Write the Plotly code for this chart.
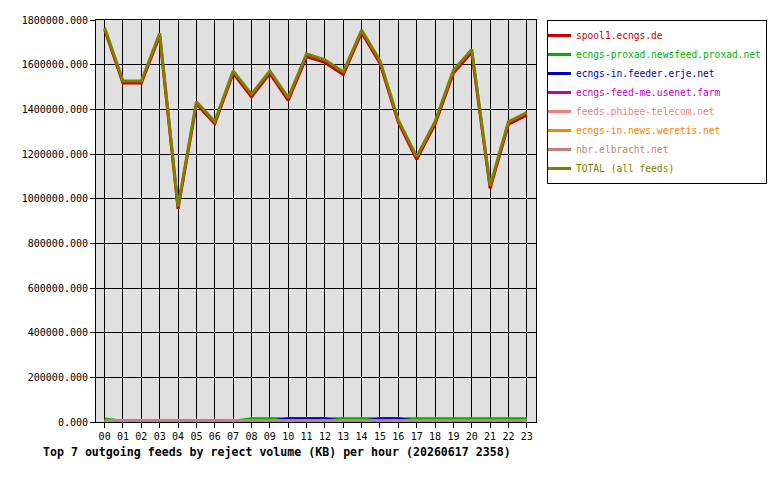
import plotly.graph_objects as go

hours = list(range(24))
hour_labels = [f"{h:02d}" for h in hours]

feed_names = [
    "spool1.ecngs.de",
    "ecngs-proxad.newsfeed.proxad.net",
    "ecngs-in.feeder.erje.net",
    "ecngs-feed-me.usenet.farm",
    "feeds.phibee-telecom.net",
    "ecngs-in.news.weretis.net",
    "nbr.elbracht.net",
    "TOTAL (all feeds)",
]
feed_colors = [
    "#cc0000",  # red
    "#00b000",  # green
    "#0000c0",  # blue
    "#c000c0",  # magenta
    "#f08080",  # pink
    "#ff8000",  # orange
    "#c08080",  # rosy
    "#808000",  # olive
]

# reject volume (KB) per hour
spool1 = [1757000, 1518000, 1518000, 1730000, 955000, 1425000, 1336000, 1562000,
          1456000, 1561000, 1440000, 1636000, 1610000, 1556000, 1744000, 1606000,
          1342000, 1176000, 1334000, 1563000, 1656000, 1046000, 1334000, 1374000]
proxad = [14000, 3000, 3000, 3000, 3000, 3000, 3000, 3000,
          14000, 14000, 12000, 12000, 12000, 14000, 14000, 12000,
          12000, 14000, 14000, 14000, 14000, 14000, 14000, 14000]
erje = [2000, 2000, 2000, 2000, 2000, 2000, 2000, 2000,
        2000, 3000, 14000, 14000, 14000, 3000, 3000, 14000,
        14000, 3000, 3000, 3000, 3000, 3000, 3000, 3000]
usenet_farm = [1000, 1000, 1000, 1000, 1000, 1000, 1000, 1000,
               1000, 1000, 1000, 1000, 1000, 1000, 1000, 1000,
               1000, 1000, 1000, 1000, 1000, 1000, 1000, 1000]
phibee = [1500, 1500, 1500, 1500, 1500, 1500, 1500, 1500,
          1500, 1500, 1500, 1500, 1500, 1500, 1500, 1500,
          1500, 1500, 1500, 1500, 1500, 1500, 1500, 1500]
weretis = [2000, 2000, 2000, 2000, 2000, 2000, 2000, 2000,
           2000, 2000, 2000, 2000, 2000, 2000, 2000, 2000,
           2000, 2000, 2000, 2000, 2000, 2000, 2000, 2000]
elbracht = [7000, 7000, 7000, 7000, 7000, 7000, 7000, 7000,
            7000, 7000, 7000, 7000, 7000, 7000, 7000, 7000,
            7000, 7000, 7000, 7000, 7000, 7000, 7000, 7000]
total = [1765000, 1527000, 1527000, 1740000, 965000, 1434000, 1345000, 1572000,
         1468000, 1572000, 1452000, 1648000, 1622000, 1568000, 1755000, 1618000,
         1352000, 1188000, 1345000, 1575000, 1668000, 1058000, 1345000, 1385000]

series = [spool1, proxad, erje, usenet_farm, phibee, weretis, elbracht, total]

mono = "DejaVu Sans Mono"

fig = go.Figure()
for name, color, values in zip(feed_names, feed_colors, series):
    fig.add_trace(
        go.Scatter(
            x=hours,
            y=values,
            mode="lines",
            name=f"<span style='color:{color}'>{name}</span>",
            line={"color": color, "width": 3},
        )
    )

# the page body adds an 8px offset, so the figure is 772x472
fig.update_layout(
    width=772,
    height=472,
    margin={"l": 88, "r": 244, "t": 12, "b": 58, "autoexpand": False},
    paper_bgcolor="white",
    plot_bgcolor="#e0e0e0",
    font={"family": mono, "size": 10, "color": "black"},
    showlegend=True,
    legend={
        "x": 1.025,
        "y": 1.0,
        "xanchor": "left",
        "yanchor": "top",
        "bgcolor": "white",
        "bordercolor": "black",
        "borderwidth": 1,
        "font": {"family": mono, "size": 9.6},
        "itemwidth": 30,
        "indentation": -12,
        "tracegroupgap": 0,
    },
    title={
        "text": "<b>Top 7 outgoing feeds by reject volume (KB) per hour (20260617 2358)</b>",
        "font": {"family": mono, "size": 11.6, "color": "black"},
        "x": 35 / 772,
        "xanchor": "left",
        "xref": "container",
        "y": 1 - 444 / 472,
        "yanchor": "middle",
        "yref": "container",
    },
    xaxis={
        "range": [-0.47, 23.5],
        "tickvals": hours,
        "ticktext": hour_labels,
        "showgrid": True,
        "gridcolor": "black",
        "gridwidth": 1,
        "showline": True,
        "linecolor": "black",
        "linewidth": 1,
        "mirror": True,
        "ticks": "outside",
        "ticklen": 5,
        "tickcolor": "black",
        "zeroline": False,
        "fixedrange": True,
    },
    yaxis={
        "range": [0, 1800000],
        "dtick": 200000,
        "tickformat": ".3f",
        "showgrid": True,
        "gridcolor": "black",
        "gridwidth": 1,
        "showline": True,
        "linecolor": "black",
        "linewidth": 1,
        "mirror": True,
        "ticks": "outside",
        "ticklen": 5,
        "tickcolor": "black",
        "zeroline": False,
        "fixedrange": True,
    },
)

fig.write_html("out.html")
